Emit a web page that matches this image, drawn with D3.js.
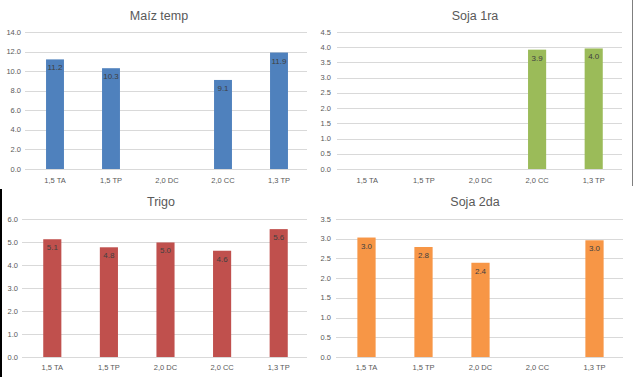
<!DOCTYPE html>
<html>
<head>
<meta charset="utf-8">
<script src="https://cdn.jsdelivr.net/npm/d3@7"></script>
<style>
  body { margin: 0; background: #fff; }
  svg { display: block; font-family: "Liberation Sans", Arial, sans-serif; }
  .grid line { stroke: #d9d9d9; stroke-width: 1; }
  .tick-label { fill: #595959; font-size: 7.5px; }
  .title { fill: #595959; font-size: 12.5px; }
  .bar-label { fill: #404040; font-size: 8px; }
</style>
</head>
<body>
<div id="chart"></div>
<script>
// categories shared by all four charts
var categories = ["1,5 TA", "1,5 TP", "2,0 DC", "2,0 CC", "1,3 TP"];

// series values (null = no bar)
var maizTemp = [11.2, 10.3, null, 9.1, 11.9];
var soja1ra  = [null, null, null, 3.92, 3.96];
var trigo    = [5.12, 4.77, 4.98, 4.62, 5.56];
var soja2da  = [3.03, 2.79, 2.39, null, 2.96];

// y-axis ticks
var maizTicks  = [0, 2, 4, 6, 8, 10, 12, 14];
var soja1Ticks = [0, 0.5, 1, 1.5, 2, 2.5, 3, 3.5, 4, 4.5];
var trigoTicks = [0, 1, 2, 3, 4, 5, 6];
var soja2Ticks = [0, 0.5, 1, 1.5, 2, 2.5, 3, 3.5];

var titles = ["Maíz temp", "Soja 1ra", "Trigo", "Soja 2da"];
var colors = ["#4f81bd", "#9bbb59", "#c0504d", "#f79646"];

var W = 633, H = 377;
var svg = d3.select("#chart").append("svg")
    .attr("width", W)
    .attr("height", H);

// panel layout
var panels = [
    {title: titles[0], values: maizTemp, ticks: maizTicks, color: colors[0],
     x0: 27, x1: 307, y0: 32, y1: 169, titleX: 159, titleY: 20, labelX: 21, catY: 183},
    {title: titles[1], values: soja1ra, ticks: soja1Ticks, color: colors[1],
     x0: 339, x1: 622, y0: 32, y1: 169, titleX: 475, titleY: 20, labelX: 331, catY: 183},
    {title: titles[2], values: trigo, ticks: trigoTicks, color: colors[2],
     x0: 24, x1: 307, y0: 219, y1: 357, titleX: 161, titleY: 206, labelX: 18, catY: 370},
    {title: titles[3], values: soja2da, ticks: soja2Ticks, color: colors[3],
     x0: 338, x1: 623, y0: 219, y1: 357, titleX: 475, titleY: 206, labelX: 331, catY: 370}
];

panels.forEach(function(p) {
    var g = svg.append("g");

    var x = d3.scaleBand()
        .domain(categories)
        .range([p.x0, p.x1])
        .paddingInner(0.68)
        .paddingOuter(0.34);

    var y = d3.scaleLinear()
        .domain([0, d3.max(p.ticks)])
        .range([p.y1, p.y0]);

    g.append("text")
        .attr("class", "title")
        .attr("x", p.titleX)
        .attr("y", p.titleY)
        .attr("text-anchor", "middle")
        .text(p.title);

    // gridlines
    g.append("g")
        .attr("class", "grid")
        .selectAll("line")
        .data(p.ticks)
        .enter()
        .append("line")
        .attr("x1", p.x0 - 2)
        .attr("x2", p.x1)
        .attr("y1", function(d) { return Math.round(y(d)) + 0.5; })
        .attr("y2", function(d) { return Math.round(y(d)) + 0.5; });

    // y tick labels
    g.selectAll(".ylab")
        .data(p.ticks)
        .enter()
        .append("text")
        .attr("class", "tick-label")
        .attr("x", p.labelX)
        .attr("y", function(d) { return y(d) + 2.5; })
        .attr("text-anchor", "end")
        .text(function(d) { return d.toFixed(1); });

    // category labels
    g.selectAll(".xlab")
        .data(categories)
        .enter()
        .append("text")
        .attr("class", "tick-label")
        .attr("x", function(d) { return x(d) + x.bandwidth() / 2; })
        .attr("y", p.catY)
        .attr("text-anchor", "middle")
        .text(function(d) { return d; });

    var pts = categories.map(function(c, i) {
        return {cat: c, v: p.values[i]};
    }).filter(function(d) { return d.v !== null; });

    g.selectAll(".bar")
        .data(pts)
        .enter()
        .append("rect")
        .attr("x", function(d) { return x(d.cat); })
        .attr("width", x.bandwidth())
        .attr("y", function(d) { return y(d.v); })
        .attr("height", function(d) { return y(0) - y(d.v); })
        .style("fill", p.color);

    g.selectAll(".blab")
        .data(pts)
        .enter()
        .append("text")
        .attr("class", "bar-label")
        .attr("x", function(d) { return x(d.cat) + x.bandwidth() / 2; })
        .attr("y", function(d) { return y(d.v) + 11; })
        .attr("text-anchor", "middle")
        .text(function(d) { return d.v.toFixed(1); });
});

// panel edges visible in the screenshot
svg.append("line")
    .attr("x1", 632.5).attr("x2", 632.5)
    .attr("y1", 0).attr("y2", 186)
    .style("stroke", "#7f7f7f");
svg.append("line")
    .attr("x1", 1).attr("x2", 1)
    .attr("y1", 189).attr("y2", 377)
    .style("stroke", "#000")
    .style("stroke-width", 2);
</script>
</body>
</html>
